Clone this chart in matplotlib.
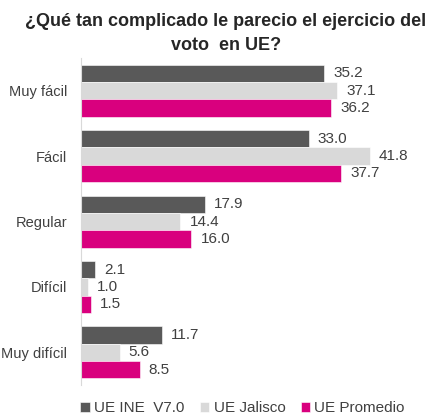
import matplotlib
matplotlib.use("Agg")
import matplotlib.pyplot as plt
import numpy as np

plt.rcParams['font.family'] = ['Liberation Sans', 'DejaVu Sans']

categories = ["Muy fácil", "Fácil", "Regular", "Difícil", "Muy difícil"]
series_names = ["UE INE  V7.0", "UE Jalisco", "UE Promedio"]
ine = [35.2, 33.0, 17.9, 2.1, 11.7]
jalisco = [37.1, 41.8, 14.4, 1.0, 5.6]
promedio = [36.2, 37.7, 16.0, 1.5, 8.5]
colors = ["#595959", "#d9d9d9", "#d9007e"]

fig = plt.figure(figsize=(4.45, 4.2), dpi=100)
ax = fig.add_axes([0.182, 0.083, 0.776, 0.779])

y = np.arange(len(categories))
h = 0.265
for i, (vals, name, c) in enumerate(zip([ine, jalisco, promedio], series_names, colors)):
    pos = y + (i - 1) * h
    ax.barh(pos, vals, height=h, color=c, label=name, edgecolor='white', linewidth=0.4)
    for p, v in zip(pos, vals):
        ax.text(v + 1.3, p, f"{v:.1f}", va='center', ha='left', fontsize=11, color='#404040')

ax.set_xlim(0, 50)
ax.set_ylim(4.5, -0.5)
ax.set_yticks(y)
ax.set_yticklabels(categories, fontsize=10.5, color='#404040')
ax.tick_params(axis='y', length=0, pad=10)
ax.set_xticks([])
for s in ['top', 'right', 'bottom']:
    ax.spines[s].set_visible(False)
ax.spines['left'].set_color('#d9d9d9')

fig.text(0.508, 0.970, "¿Qué tan complicado le parecio el ejercicio del\nvoto  en UE?",
         ha='center', va='top', fontsize=13, fontweight='bold', color='#262626', linespacing=1.55)

leg = fig.legend(loc='center', bbox_to_anchor=(0.545, 0.028), ncol=3, frameon=False,
                 fontsize=11, handlelength=0.6, handleheight=0.6, handletextpad=0.3,
                 columnspacing=1.0, labelcolor='#404040')

fig.savefig("out.png", dpi=100)
